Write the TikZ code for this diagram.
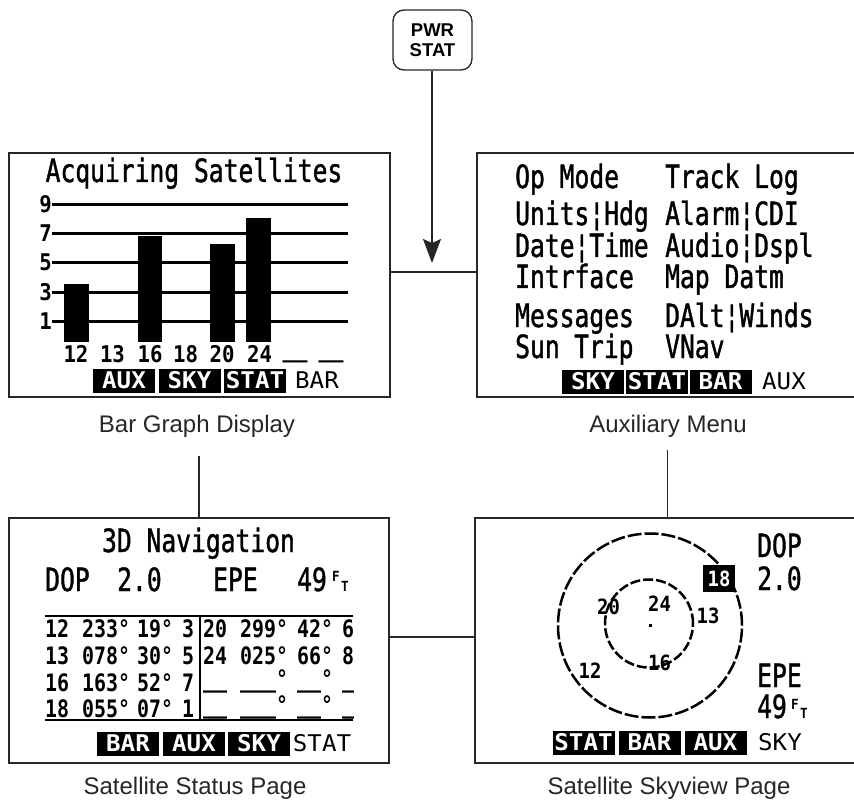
\documentclass[tikz,border=0pt]{standalone}
\usepackage{fontspec}
\setmainfont{Liberation Sans}
\newfontfamily\lcdR[FakeStretch=0.77,FakeBold=1.2]{DejaVu Sans Mono}
\newfontfamily\lcdB[FakeStretch=0.9]{DejaVu Sans Mono}
\newfontfamily\lcdT[FakeStretch=0.83]{DejaVu Sans Mono}
\newfontfamily\lcdK[FakeStretch=1.05]{DejaVu Sans Mono}
\usetikzlibrary{arrows.meta}
\tikzset{
  screen/.style={draw=black!85, line width=2pt, inner sep=0pt, outer sep=0pt, minimum height=244pt},
  conn/.style={draw=black!85, line width=1.7pt},
  caption/.style={font=\fontsize{24}{24}\selectfont, text=black!85, anchor=base, inner sep=0pt},
  big/.style={font=\lcdR\fontsize{32}{32}\selectfont, inner sep=0pt, anchor=base west},
  softkey/.style={fill=black, text=white, inner sep=0pt, minimum width=62pt, minimum height=24pt, font=\lcdK\bfseries\fontsize{23}{23}\selectfont},
  softcur/.style={inner sep=0pt, font=\lcdK\fontsize{23}{23}\selectfont},
  num/.style={font=\lcdB\bfseries\fontsize{23}{23}\selectfont, inner sep=0pt, anchor=base},
  tabrow/.style={font=\lcdT\bfseries\fontsize{24}{24}\selectfont, inner sep=0pt, anchor=base west},
  satlbl/.style={font=\lcdB\bfseries\fontsize{21}{21}\selectfont, inner sep=0pt},
  tiny/.style={font=\lcdB\bfseries\fontsize{14}{14}\selectfont, inner sep=0pt, anchor=base west},
  gridline/.style={line width=3pt},
  skyring/.style={line width=2.5pt, dash pattern=on 14pt off 3pt},
}
\begin{document}
\begin{tikzpicture}[x=1pt,y=-1pt]
\useasboundingbox (0,0) rectangle (854,802);
\clip (0,0) rectangle (854,802);

% screens
\node[screen, minimum width=381pt] (tl) at (199.5,275) {};
\node[screen, minimum width=383pt] (tr) at (668.5,275) {};
\node[screen, minimum width=380pt, minimum height=245pt] (bl) at (199,640.5) {};
\node[screen, minimum width=385pt, minimum height=245pt] (br) at (667.5,640.5) {};

% power button
\node[draw=black!85, line width=1.3pt, rounded corners=11pt, minimum width=79pt, minimum height=60pt, inner sep=0pt, align=center, font=\bfseries\fontsize{18.5}{20.5}\selectfont] (pwr) at (432.5,40) {PWR\\STAT};

% captions
\node[caption] (lblBar) at (197,432) {Bar Graph Display};
\node[caption] (lblAux) at (668,432) {Auxiliary Menu};
\node[caption] (lblStat) at (195,794) {Satellite Status Page};
\node[caption] (lblSky) at (669,794) {Satellite Skyview Page};

% connectors
\coordinate (tip) at (432,263);
\coordinate (h1) at (0,272);
\coordinate (h2) at (0,637);
\coordinate (c1) at (199,456);
\coordinate (c2) at (667.5,450);
\draw[conn, -{Stealth[length=24pt,width=18pt,inset=4pt]}] (pwr.south -| tip) -- (tip);
\draw[conn] (tl.east |- h1) -- (tr.west |- h1);
\draw[conn] (c1) -- (bl.north);
\draw[conn] (c2) -- (br.north);
\draw[conn] (bl.east |- h2) -- (br.west |- h2);

% ---- Bar graph screen
\node[big, anchor=base] (bgtitle) at (194,182) {Acquiring Satellites};
\foreach \v/\y in {9/205,7/234,5/263,3/293,1/322}{
  \draw[gridline] (52,\y) -- (348,\y);
  \node[num, anchor=base east] (ax\v) at (52,\y+8) {\v};
}
\fill (64,284) rectangle (89,342);
\fill (138,236) rectangle (162,342);
\fill (210,244) rectangle (235,342);
\fill (246,218) rectangle (271,342);
\foreach \x/\t in {76/12,112.5/13,150/16,185.5/18,222/20,259.5/24}
  \node[num] (bl\t) at (\x,362) {\t};
\node[num] (blu1) at (295,357) {\_\_};
\node[num] (blu2) at (331,357) {\_\_};
\node[softkey] (k1) at (124,380.5) {AUX};
\node[softkey] (k2) at (189.5,380.5) {SKY};
\node[softkey] (k3) at (255,380.5) {STAT};
\node[softcur] (k4) at (317,380.5) {BAR};

% ---- Auxiliary menu screen
\node[big] (m1) at (515,188) {Op Mode};
\node[big] (m2) at (665,188) {Track Log};
\node[big] (m3) at (515,225) {Units¦Hdg};
\node[big] (m4) at (665,225) {Alarm¦CDI};
\node[big] (m5) at (515,257) {Date¦Time};
\node[big] (m6) at (665,257) {Audio¦Dspl};
\node[big] (m7) at (515,288) {Intrface};
\node[big] (m8) at (665,288) {Map Datm};
\node[big] (m9) at (515,327) {Messages};
\node[big] (m10) at (665,327) {DAlt¦Winds};
\node[big] (m11) at (515,358) {Sun};
\node[big] (m12) at (574,358) {Trip};
\node[big] (m13) at (665,358) {VNav};
\node[softkey] (a1) at (593,381.5) {SKY};
\node[softkey] (a2) at (657,381.5) {STAT};
\node[softkey] (a3) at (720.5,381.5) {BAR};
\node[softcur] (a4) at (784,381.5) {AUX};

% ---- Satellite status screen
\node[big, anchor=base] (sttitle) at (198.5,552) {3D Navigation};
\node[big] (s1) at (45,591) {DOP};
\node[big] (s2) at (117,591) {2.0};
\node[big] (s3) at (213,591) {EPE};
\node[big] (s4) at (297,591) {49};
\node[tiny] (s5) at (332,581) {F};
\node[tiny] (s6) at (341,591) {T};
\draw[line width=2.5pt] (45,616) -- (353,616);
\draw[line width=2.5pt] (45,720) -- (353,720);
\draw[line width=2pt] (200,616) -- (200,720);
% table rows: id, azimuth, elevation, signal
\foreach \r/\yb/\ida/\aza/\ela/\sqa/\idb/\azb/\elb/\sqb in
  {1/637/12/233/19/3/20/299/42/6, 2/664/13/078/30/5/24/025/66/8}{
  \node[tabrow] (t\r a1) at (45,\yb) {\ida};
  \node[tabrow] (t\r a2) at (82,\yb) {\aza°};
  \node[tabrow] (t\r a3) at (137,\yb) {\ela°};
  \node[tabrow] (t\r a4) at (182,\yb) {\sqa};
  \node[tabrow] (t\r b1) at (203,\yb) {\idb};
  \node[tabrow] (t\r b2) at (240,\yb) {\azb°};
  \node[tabrow] (t\r b3) at (297,\yb) {\elb°};
  \node[tabrow] (t\r b4) at (342,\yb) {\sqb};
}
\foreach \r/\yb/\ida/\aza/\ela/\sqa in {3/691/16/163/52/7, 4/717/18/055/07/1}{
  \node[tabrow] (t\r a1) at (45,\yb) {\ida};
  \node[tabrow] (t\r a2) at (82,\yb) {\aza°};
  \node[tabrow] (t\r a3) at (137,\yb) {\ela°};
  \node[tabrow] (t\r a4) at (182,\yb) {\sqa};
  \node[tabrow] (t\r b1) at (203,\yb-4) {\_\_};
  \node[tabrow] (t\r b2) at (240,\yb-4) {\_\_\_°};
  \node[tabrow] (t\r b3) at (297,\yb-4) {\_\_°};
  \node[tabrow] (t\r b4) at (342,\yb-4) {\_};
}
\node[softkey] (b1) at (128,743.5) {BAR};
\node[softkey] (b2) at (194,743.5) {AUX};
\node[softkey] (b3) at (259,743.5) {SKY};
\node[softcur] (b4) at (322,743.5) {STAT};

% ---- Skyview screen
\draw[skyring] (650,625.5) circle[radius=92pt];
\draw[skyring, dash pattern=on 10pt off 3pt] (649,623.5) circle[radius=44pt];
\fill (649,624) rectangle (652,627);
\node[satlbl] (v20) at (608.5,606.5) {20};
\node[satlbl] (v24) at (659.5,603.5) {24};
\node[satlbl] (v13) at (708,615.5) {13};
\node[satlbl] (v16) at (659.5,662.5) {16};
\node[satlbl] (v12) at (590,670.5) {12};
\node[satlbl, fill=black, text=white, minimum width=32pt, minimum height=27pt] (v18) at (719,578.5) {18};
\node[big] (w1) at (757,557) {DOP};
\node[big] (w2) at (757,590) {2.0};
\node[big] (w3) at (757,687) {EPE};
\node[big] (w4) at (757,718) {49};
\node[tiny] (w5) at (791,709) {F};
\node[tiny] (w6) at (800,718) {T};
\node[softkey] (d1) at (583.5,742.5) {STAT};
\node[softkey] (d2) at (649.5,742.5) {BAR};
\node[softkey] (d3) at (715.5,742.5) {AUX};
\node[softcur] (d4) at (780,742.5) {SKY};
\end{tikzpicture}
\end{document}
